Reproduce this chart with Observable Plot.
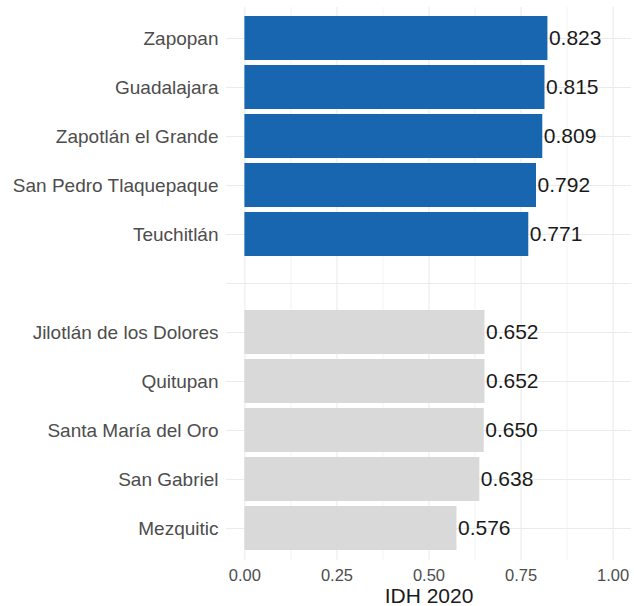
<!DOCTYPE html>
<html>
<head>
<meta charset="utf-8">
<script src="https://cdn.jsdelivr.net/npm/d3@7"></script>
<script src="https://cdn.jsdelivr.net/npm/@observablehq/plot@0.6"></script>
<style>
  html, body { margin: 0; padding: 0; background: #fff; }
  #chart { width: 634px; height: 606px; }
</style>
</head>
<body>
<div id="chart"></div>
<script>
// ---- Data ----
const municipios = [
  "Zapopan", "Guadalajara", "Zapotlán el Grande", "San Pedro Tlaquepaque", "Teuchitlán",
  "Jilotlán de los Dolores", "Quitupan", "Santa María del Oro", "San Gabriel", "Mezquitic"
];
const idh = [0.823, 0.815, 0.809, 0.792, 0.771, 0.652, 0.652, 0.650, 0.638, 0.576];
const grupo = ["alto", "alto", "alto", "alto", "alto", "bajo", "bajo", "bajo", "bajo", "bajo"];
const xTicks = [0, 0.25, 0.5, 0.75, 1];
const xTickLabels = ["0.00", "0.25", "0.50", "0.75", "1.00"];
const xMinorTicks = [0.125, 0.375, 0.625, 0.875];
const separador = " ";
const tituloX = "IDH 2020";

// ---- Build ----
const data = municipios.map((m, i) => ({mun: m, idh: idh[i], grupo: grupo[i]}));
const yDomain = [...municipios.slice(0, 5), separador, ...municipios.slice(5)];
const colores = {alto: "#1865b0", bajo: "#d9d9d9"};
const font = "'Liberation Sans', Arial, Helvetica, sans-serif";

const chart = Plot.plot({
  width: 634,
  height: 606,
  marginLeft: 226,
  marginRight: 3,
  marginTop: 7,
  marginBottom: 46,
  style: {fontFamily: font, fontSize: "16.5px", color: "#4d4d4d", background: "#fff"},
  x: {domain: [-0.05, 1.05], axis: null},
  y: {domain: yDomain, paddingInner: 0.1, paddingOuter: 0.15, axis: null},
  marks: [
    Plot.gridX(xMinorTicks, {stroke: "#ebebeb", strokeOpacity: 1, strokeWidth: 0.6}),
    Plot.gridX(xTicks, {stroke: "#ebebeb", strokeOpacity: 1, strokeWidth: 1.1}),
    Plot.gridY(yDomain, {stroke: "#ebebeb", strokeOpacity: 1, strokeWidth: 1.1}),
    Plot.barX(data, {x: "idh", y: "mun", fill: d => colores[d.grupo]}),
    Plot.text(data, {
      x: "idh", y: "mun", text: d => d.idh.toFixed(3),
      textAnchor: "start", dx: 1, fontSize: 21, fill: "#1a1a1a"
    }),
    Plot.axisY({
      tickSize: 0, tickPadding: 8, fontSize: 19, fill: "#4d4d4d",
      tickFormat: d => d === separador ? "" : d, label: null
    }),
    Plot.axisX(xTicks, {
      tickSize: 0, tickPadding: 9, fontSize: 16.5, fill: "#4d4d4d",
      tickFormat: (d, i) => xTickLabels[xTicks.indexOf(d)], label: null
    }),
    Plot.text([tituloX], {
      frameAnchor: "bottom", dy: 36, fontSize: 21, fill: "#1a1a1a", lineAnchor: "middle"
    })
  ]
});
document.getElementById("chart").appendChild(chart);
</script>
</body>
</html>
